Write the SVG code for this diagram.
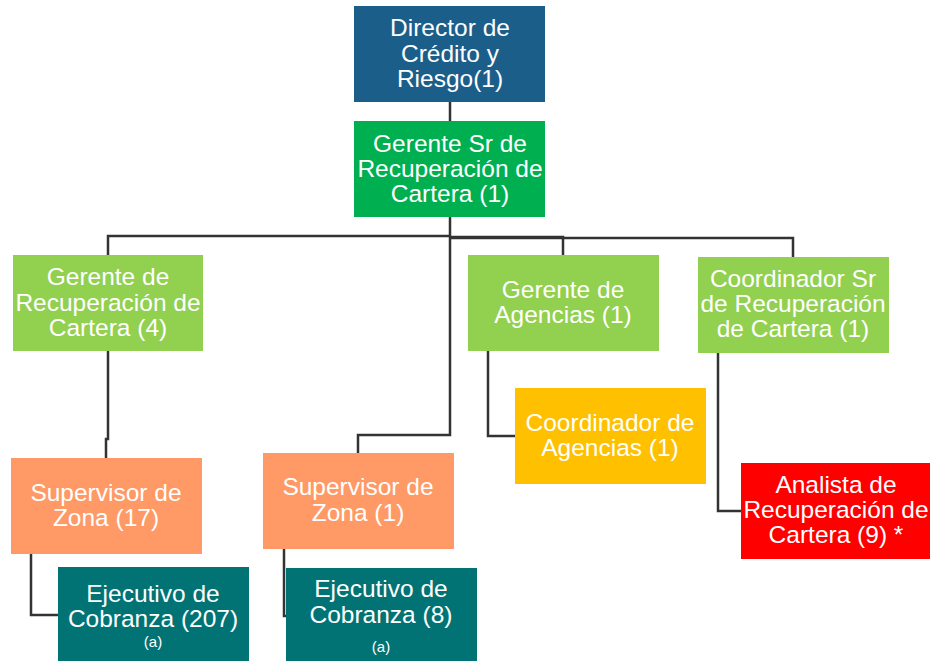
<svg xmlns="http://www.w3.org/2000/svg" width="930" height="661" viewBox="0 0 930 661">
<style>
text{font-family:"Liberation Sans",Arial,sans-serif;font-size:24.5px;fill:#fff;text-anchor:middle}
.s{font-size:15px}
.c{fill:none;stroke:#333;stroke-width:2.5}
</style>
<rect width="930" height="661" fill="#fff"/>
<g id="connectors" class="c">
<path d="M450 102V121"/>
<path d="M450 217V435H358V453"/>
<path d="M450 236H108V351"/>
<path d="M108 351V439H106V458"/>
<path d="M450 237H563V255"/>
<path d="M450 238H793V257"/>
<path d="M488 351V436H515"/>
<path d="M718 353V511H741"/>
<path d="M31 554V615H58"/>
<path d="M284 549V616H286"/>
</g>
<g id="director"><rect x="354" y="6" width="191" height="96" fill="#1B5E8A"/><text x="450" y="36">Director de</text><text x="450" y="62">Crédito y</text><text x="450" y="87">Riesgo(1)</text></g>
<g id="gerente-sr"><rect x="354" y="121" width="191" height="96" fill="#00B050"/><text x="450" y="152">Gerente Sr de</text><text x="450" y="177">Recuperación de</text><text x="450" y="202">Cartera (1)</text></g>
<g id="gerente-rec"><rect x="13" y="255" width="190" height="96" fill="#92D050"/><text x="108" y="285">Gerente de</text><text x="108" y="311">Recuperación de</text><text x="108" y="336">Cartera (4)</text></g>
<g id="gerente-ag"><rect x="468" y="255" width="191" height="96" fill="#92D050"/><text x="563" y="298">Gerente de</text><text x="563" y="323">Agencias (1)</text></g>
<g id="coord-sr"><rect x="698" y="257" width="191" height="96" fill="#92D050"/><text x="793" y="287">Coordinador Sr</text><text x="793" y="312">de Recuperación</text><text x="793" y="337">de Cartera (1)</text></g>
<g id="coord-ag"><rect x="515" y="388" width="191" height="96" fill="#FFC000"/><text x="610" y="431">Coordinador de</text><text x="610" y="456">Agencias (1)</text></g>
<g id="analista"><rect x="741" y="463" width="189" height="96" fill="#FF0000"/><text x="836" y="493">Analista de</text><text x="836" y="518">Recuperación de</text><text x="836" y="543">Cartera (9) *</text></g>
<g id="supervisor-17"><rect x="11" y="458" width="191" height="96" fill="#FF9966"/><text x="106" y="501">Supervisor de</text><text x="106" y="526">Zona (17)</text></g>
<g id="supervisor-1"><rect x="263" y="453" width="191" height="96" fill="#FF9966"/><text x="358" y="495">Supervisor de</text><text x="358" y="521">Zona (1)</text></g>
<g id="ejecutivo-207"><rect x="58" y="567" width="191" height="94" fill="#017375"/><text x="153" y="602">Ejecutivo de</text><text x="153" y="627">Cobranza (207)</text><text class="s" x="153" y="647">(a)</text></g>
<g id="ejecutivo-8"><rect x="286" y="568" width="191" height="93" fill="#017375"/><text x="381" y="597">Ejecutivo de</text><text x="381" y="623">Cobranza (8)</text><text class="s" x="381" y="652">(a)</text></g>
</svg>
